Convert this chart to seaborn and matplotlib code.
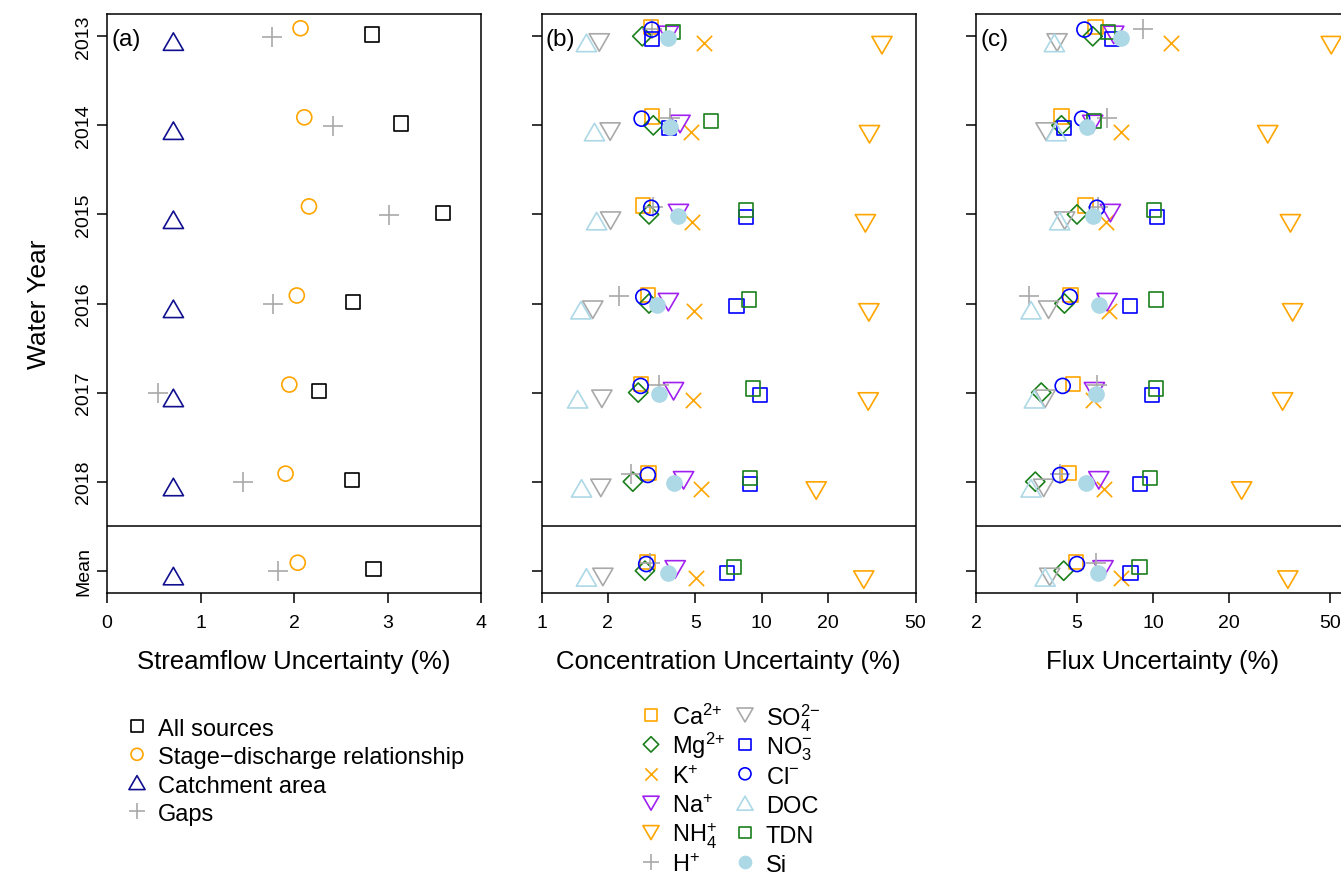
import matplotlib
matplotlib.use("Agg")
import matplotlib.pyplot as plt
import numpy as np
import pandas as pd
import seaborn as sns
from matplotlib.path import Path
from matplotlib.ticker import FixedLocator, NullLocator

ROW_LABELS = ["2013", "2014", "2015", "2016", "2017", "2018", "Mean"]

# (a) streamflow uncertainty (%)
all_sources = [2.83, 3.14, 3.59, 2.63, 2.27, 2.62, 2.85]
stage_discharge = [2.07, 2.11, 2.16, 2.03, 1.95, 1.91, 2.04]
catchment_area = [0.71, 0.71, 0.71, 0.71, 0.71, 0.71, 0.71]
gaps = [1.77, 2.42, 3.02, 1.78, 0.55, 1.45, 1.83]

# (b) concentration uncertainty (%)
conc_ca = [3.15, 3.19, 2.90, 3.04, 2.82, 3.06, 3.03]
conc_mg = [2.87, 3.22, 3.08, 3.08, 2.75, 2.60, 2.95]
conc_k = [5.46, 4.80, 4.85, 4.95, 4.90, 5.31, 5.02]
conc_na = [3.77, 4.26, 4.19, 3.77, 3.98, 4.42, 4.05]
conc_nh4 = [35.2, 30.9, 29.6, 30.7, 30.5, 17.7, 29.1]
conc_h = [3.17, 3.84, 3.22, 2.26, 3.42, 2.54, 3.11]
conc_so4 = [1.83, 2.05, 2.06, 1.71, 1.88, 1.86, 1.90]
conc_no3 = [3.18, 3.80, 8.49, 7.69, 9.80, 8.82, 6.95]
conc_cl = [3.17, 2.85, 3.15, 2.90, 2.82, 3.04, 2.99]
conc_doc = [1.60, 1.74, 1.78, 1.51, 1.46, 1.52, 1.60]
conc_tdn = [3.95, 5.90, 8.49, 8.73, 9.13, 8.82, 7.51]
conc_si = [3.75, 3.84, 4.15, 3.35, 3.42, 3.98, 3.75]

# (c) flux uncertainty (%)
flux_ca = [5.93, 4.35, 5.41, 4.72, 4.83, 4.65, 4.97]
flux_mg = [5.78, 4.35, 5.01, 4.47, 3.62, 3.43, 4.44]
flux_k = [11.8, 7.45, 6.53, 6.69, 5.80, 6.40, 7.45]
flux_na = [7.00, 5.78, 6.79, 6.59, 5.87, 6.11, 6.35]
flux_nh4 = [50.6, 28.4, 34.9, 35.6, 32.5, 22.4, 34.1]
flux_h = [9.16, 6.59, 6.05, 3.25, 6.01, 4.28, 5.93]
flux_so4 = [4.18, 3.78, 4.48, 3.87, 3.75, 3.70, 3.91]
flux_no3 = [6.91, 4.44, 10.4, 8.11, 9.93, 8.88, 8.15]
flux_cl = [5.36, 5.25, 6.01, 4.69, 4.40, 4.30, 5.01]
flux_doc = [4.08, 4.15, 4.28, 3.30, 3.40, 3.30, 3.75]
flux_tdn = [6.65, 5.84, 10.1, 10.3, 10.3, 9.72, 8.85]
flux_si = [7.45, 5.50, 5.78, 6.11, 5.93, 5.46, 6.06]

STREAM_TICKS = [0, 1, 2, 3, 4]
CONC_TICKS = [1, 2, 5, 10, 20, 50]
FLUX_TICKS = [2, 5, 10, 20, 50]

# colours
ORANGE = "#FFA500"
DARKBLUE = "#10108F"
GREY = "#A9A9A9"
GREEN = "#1B7F1B"
PURPLE = "#A020F0"
BLUE = "#0000FF"
LIGHTBLUE = "#ADD8E6"

# R-like equilateral triangles (closed paths)
TRI_UP = Path([(-1, -0.866), (1, -0.866), (0, 0.866), (0, 0)],
              [Path.MOVETO, Path.LINETO, Path.LINETO, Path.CLOSEPOLY])
TRI_DOWN = Path([(-1, 0.866), (1, 0.866), (0, -0.866), (0, 0)],
                [Path.MOVETO, Path.LINETO, Path.LINETO, Path.CLOSEPOLY])

# marker sizes in points
MARKER_SIZE = {"s": 10.2, "o": 10.8, "D": 9.8, "+": 15.0, "x": 11.0, "up": 14.5, "down": 14.5}
LW = 1.2
SPINE_LW = 1.1

# label, marker key, colour, vertical offset (row units), filled
STREAM_STYLE = [
    ("All sources", "s", "black", -0.02, False),
    ("Stage\u2212discharge relationship", "o", ORANGE, -0.09, False),
    ("Catchment area", "up", DARKBLUE, 0.06, False),
    ("Gaps", "+", GREY, 0.005, False),
]
SOLUTE_STYLE = [
    (r"Ca$^{2{+}}$", "s", ORANGE, -0.10, False),
    (r"Mg$^{2{+}}$", "D", GREEN, 0.0, False),
    (r"K$^{+}$", "x", ORANGE, 0.08, False),
    (r"Na$^{+}$", "down", PURPLE, -0.015, False),
    (r"NH$_4^{+}$", "down", ORANGE, 0.10, False),
    (r"H$^{+}$", "+", GREY, -0.085, False),
    (r"SO$_4^{2{-}}$", "down", GREY, 0.07, False),
    (r"NO$_3^{-}$", "s", BLUE, 0.03, False),
    (r"Cl$^{-}$", "o", BLUE, -0.075, False),
    ("DOC", "up", LIGHTBLUE, 0.075, False),
    ("TDN", "s", GREEN, -0.045, False),
    ("Si", "o", LIGHTBLUE, 0.02, True),
]

W, H = 1341, 878
AX_W = 374 / W
AX_B = 1 - 594 / H
AX_H = 579 / H


def _marker(key):
    return {"up": TRI_UP, "down": TRI_DOWN}.get(key, key)


def _points(ax, x, y, key, color, filled=False, scale=1.0):
    """Scatter one series with R-style hollow / line-art markers."""
    df = pd.DataFrame({"x": x, "y": y})
    size = MARKER_SIZE[key] * scale
    kw = dict(marker=_marker(key), s=size ** 2, linewidth=LW, legend=False, zorder=3)
    if key in ("+", "x"):
        kw["color"] = color
    elif filled:
        kw.update(color=color, edgecolor=color)
    else:
        kw.update(color=color, facecolor="none", edgecolor=color)
    sns.scatterplot(data=df, x="x", y="y", ax=ax, **kw)


def _setup_panel(ax, ticks, xlim, log, xlabel, tag, show_rows=False):
    if log:
        ax.set_xscale("log")
    ax.set_xlim(*xlim)
    ax.set_ylim(len(ROW_LABELS) - 0.75, -0.25)
    ax.xaxis.set_major_locator(FixedLocator(ticks))
    ax.xaxis.set_minor_locator(NullLocator())
    ax.set_xticklabels([str(t) for t in ticks])
    ax.set_yticks(range(len(ROW_LABELS)))
    ax.set_yticklabels(ROW_LABELS if show_rows else [])
    ax.axhline(len(ROW_LABELS) - 1.5, color="black", lw=SPINE_LW, zorder=2)
    for sp in ax.spines.values():
        sp.set_color("black")
        sp.set_linewidth(SPINE_LW)
    ax.tick_params(axis="both", direction="out", length=7.5, width=SPINE_LW,
                   color="black", labelcolor="black", labelsize=14)
    ax.tick_params(axis="x", pad=7.5)
    ax.tick_params(axis="y", pad=3, labelrotation=90)
    for lab in ax.get_yticklabels():
        lab.set_va("center")
    ax.set_xlabel(xlabel, fontsize=18.5, color="black")
    ax.xaxis.set_label_coords(0.5, -0.097)
    ax.set_ylabel("")
    ax.text(0.012, 0.976, tag, transform=ax.transAxes, ha="left", va="top",
            fontsize=17.5, color="black")


sns.set_theme(style="ticks")
plt.rcParams["font.family"] = ["Liberation Sans", "DejaVu Sans"]
plt.rcParams["mathtext.fontset"] = "custom"
plt.rcParams["mathtext.rm"] = "Liberation Sans"
plt.rcParams["mathtext.it"] = "Liberation Sans:italic"
plt.rcParams["mathtext.bf"] = "Liberation Sans:bold"
plt.rcParams["text.color"] = "black"
plt.rcParams["axes.labelcolor"] = "black"

fig = plt.figure(figsize=(W / 100, H / 100), dpi=100)
ax_a = fig.add_axes([107 / W, AX_B, AX_W, AX_H])
ax_b = fig.add_axes([541.5 / W, AX_B, AX_W, AX_H])
ax_c = fig.add_axes([976 / W, AX_B, AX_W, AX_H])

rows = np.arange(len(ROW_LABELS))

stream_series = [all_sources, stage_discharge, catchment_area, gaps]
for vals, (_, key, color, off, filled) in zip(stream_series, STREAM_STYLE):
    _points(ax_a, vals, rows + off, key, color, filled)

conc_series = [conc_ca, conc_mg, conc_k, conc_na, conc_nh4, conc_h,
               conc_so4, conc_no3, conc_cl, conc_doc, conc_tdn, conc_si]
flux_series = [flux_ca, flux_mg, flux_k, flux_na, flux_nh4, flux_h,
               flux_so4, flux_no3, flux_cl, flux_doc, flux_tdn, flux_si]
for cvals, fvals, (_, key, color, off, filled) in zip(conc_series, flux_series, SOLUTE_STYLE):
    _points(ax_b, cvals, rows + off, key, color, filled)
    _points(ax_c, fvals, rows + off, key, color, filled)

_setup_panel(ax_a, STREAM_TICKS, (0, 4), False, "Streamflow Uncertainty (%)", "(a)", show_rows=True)
_setup_panel(ax_b, CONC_TICKS, (1, 50), True, "Concentration Uncertainty (%)", "(b)")
_setup_panel(ax_c, FLUX_TICKS, (2, 60), True, "Flux Uncertainty (%)", "(c)")
ax_a.set_ylabel("Water Year", fontsize=19, color="black")
ax_a.yaxis.set_label_coords(-0.15, 0.5)

# legends drawn in an overlay axes using pixel coordinates
leg = fig.add_axes([0, 0, 1, 1], zorder=-1)
leg.set_xlim(0, W)
leg.set_ylim(H, 0)
leg.axis("off")


def _legend_column(entries, x_key, x_text, y0, dy):
    for i, (label, key, color, _, filled) in enumerate(entries):
        y = y0 + i * dy
        _points(leg, [x_key], [y], key, color, filled, scale=0.8)
        leg.text(x_text, y + 9, label, fontsize=17, ha="left", va="baseline", color="black")


_legend_column(STREAM_STYLE, 137, 158, 727, 28.3)
_legend_column(SOLUTE_STYLE[:6], 651, 672, 716, 29.4)
_legend_column(SOLUTE_STYLE[6:], 745, 766, 716, 29.4)
leg.set_xlim(0, W)
leg.set_ylim(H, 0)

fig.savefig("out.png", dpi=100)
